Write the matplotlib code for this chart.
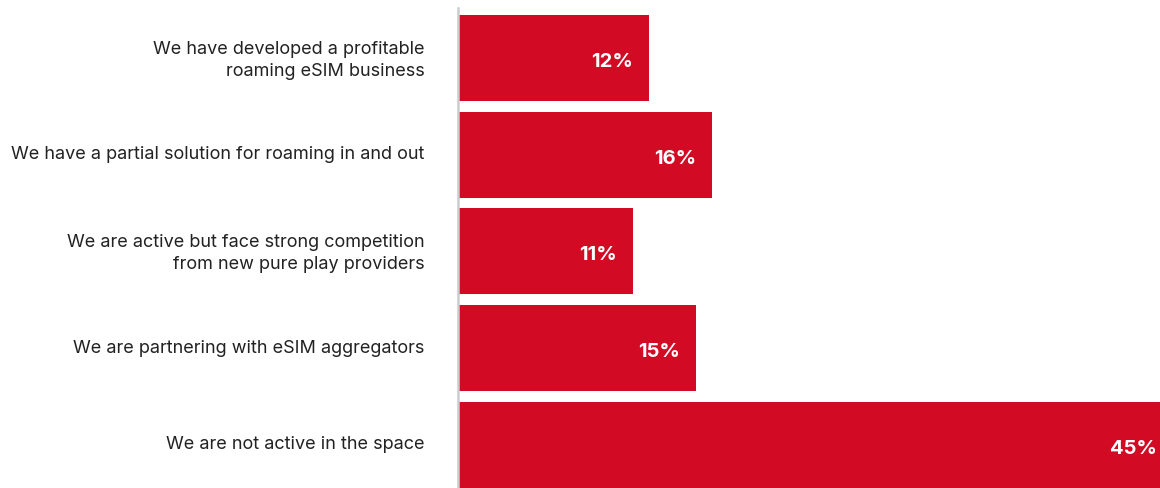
import matplotlib.pyplot as plt
from matplotlib.transforms import ScaledTranslation

categories = [
    "We have developed a profitable\nroaming eSIM business",
    "We have a partial solution for roaming in and out",
    "We are active but face strong competition\nfrom new pure play providers",
    "We are partnering with eSIM aggregators",
    "We are not active in the space",
]
values = [12, 16, 11, 15, 45]
value_labels = ["12%", "16%", "11%", "15%", "45%"]

BAR_COLOR = "#D20A24"
TEXT_COLOR = "#222222"
AXIS_COLOR = "#C9CDCD"

plt.rcParams["font.family"] = ["Inter", "DejaVu Sans"]

W, H = 1160, 489
fig = plt.figure(figsize=(W / 100, H / 100), dpi=100)
ax = fig.add_axes([458 / W, 0, 1 - 458 / W, 480 / H])

y = list(range(len(categories)))
ax.barh(y, values, height=0.89, color=BAR_COLOR, left=0)

ax.set_xlim(0, 44.2)
ax.set_ylim(4.447, -0.5175)

for yi, v, lab in zip(y, values, value_labels):
    ax.annotate(lab, xy=(v, yi), xytext=(-11.5, -2.2), textcoords="offset points",
                ha="right", va="center", color="white", fontsize=14.5,
                fontweight="bold", annotation_clip=False)

ax.set_yticks(y)
ax.set_yticklabels(categories, fontsize=13, color=TEXT_COLOR,
                   linespacing=1.38, ha="right")
ax.tick_params(axis="y", length=0, pad=24)
ax.set_xticks([])

# nudge category labels up slightly so they sit optically centred
shift = ScaledTranslation(0, 3 / 100, fig.dpi_scale_trans)
for t in ax.get_yticklabels():
    t.set_transform(t.get_transform() + shift)

for s in ("top", "right", "bottom"):
    ax.spines[s].set_visible(False)
ax.spines["left"].set_color(AXIS_COLOR)
ax.spines["left"].set_linewidth(1.8)

fig.savefig("out.png", dpi=100)
